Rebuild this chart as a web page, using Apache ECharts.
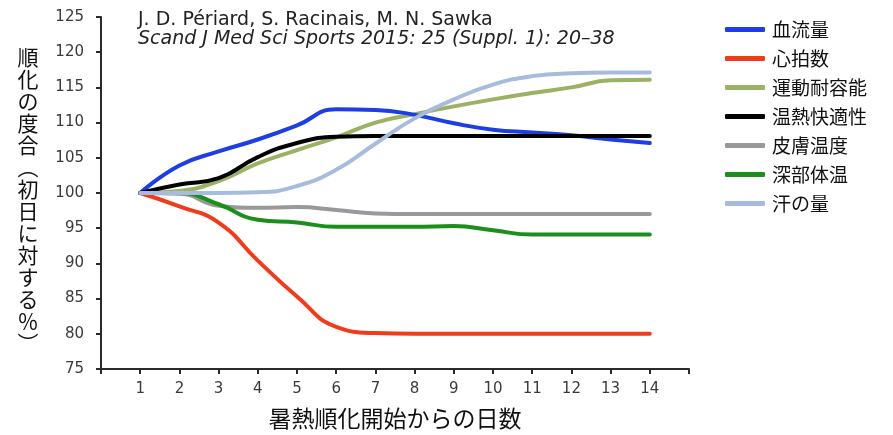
<!DOCTYPE html>
<html>
<head>
<meta charset="utf-8">
<script src="https://cdn.jsdelivr.net/npm/echarts@6/dist/echarts.min.js"></script>
<style>html,body{margin:0;padding:0;background:#fff}#c{width:893px;height:435px}</style>
</head>
<body>
<div id="c"></div>
<script>
const days = [1,2,3,4,5,6,7,8,9,10,11,12,13,14];
const bloodFlow   = [100,103.9,105.9,107.6,109.6,111.9,111.8,111.1,109.9,109.0,108.6,108.2,107.6,107.1];
const heartRate   = [100,98.1,95.8,90.4,85.3,81.0,80.1,80.0,80.0,80.0,80.0,80.0,80.0,80.0];
const exerciseCap = [100,100.3,101.7,104.2,106.1,107.9,110.0,111.2,112.3,113.3,114.2,115.0,116.0,116.1];
const thermalComf = [100,101.2,102.1,105.1,107.1,108.0,108.1,108.1,108.1,108.1,108.1,108.1,108.1,108.1];
const skinTemp    = [100,99.9,98.2,97.9,98.0,97.6,97.1,97.0,97.0,97.0,97.0,97.0,97.0,97.0];
const coreTemp    = [100,100.0,98.4,96.2,95.8,95.2,95.2,95.2,95.3,94.7,94.1,94.1,94.1,94.1];
const sweatRate   = [100,100,100,100.1,101.0,103.3,107.0,110.6,113.3,115.4,116.6,117.0,117.1,117.1];

const names = ['血流量','心拍数','運動耐容能','温熱快適性','皮膚温度','深部体温','汗の量'];
const yTicks = [75,80,85,90,95,100,105,110,115,120,125];
const yName = '順化の度合︵初日に対する％︶';
const xName = '暑熱順化開始からの日数';
const credit1 = 'J. D. Périard, S. Racinais, M. N. Sawka';
const credit2 = 'Scand J Med Sci Sports 2015: 25 (Suppl. 1): 20–38';

const colors = {
  '血流量':'#1c3ee4','心拍数':'#f03c1c','運動耐容能':'#9bb163','温熱快適性':'#000000',
  '皮膚温度':'#999999','深部体温':'#1b8e1b','汗の量':'#a7bbdc'
};
const dataMap = {
  '血流量':bloodFlow,'心拍数':heartRate,'運動耐容能':exerciseCap,'温熱快適性':thermalComf,
  '皮膚温度':skinTemp,'深部体温':coreTemp,'汗の量':sweatRate
};
const drawOrder = ['皮膚温度','深部体温','心拍数','運動耐容能','血流量','温熱快適性','汗の量'];

const chart = echarts.init(document.getElementById('c'), null, {renderer:'canvas'});
const font = 'DejaVu Sans, Verdana, sans-serif';
const cjk = '"Noto Sans CJK JP", sans-serif';

// vertical y-axis title, one glyph per line (vertical presentation-form brackets)
const yChars = Array.from(yName);
const y0 = 57, yStep = 22;
const yNameGraphics = yChars.map((ch,i)=>({
  type:'text',x:28,y:y0+i*yStep,
  style:{text:ch,font:'21px '+cjk,fill:'#111',align:'center',verticalAlign:'middle'}
}));

chart.setOption({
  animation:false,
  backgroundColor:'#fff',
  grid:{left:101,right:204,top:17,bottom:66,containLabel:false,outerBoundsMode:'none'},
  xAxis:{
    type:'value',min:0,max:15,interval:1,
    name:xName,nameLocation:'middle',nameGap:38,
    nameTextStyle:{fontFamily:cjk,fontSize:23,color:'#111',verticalAlign:'top'},
    axisLine:{show:true,lineStyle:{color:'#2a2a2a',width:2}},
    axisTick:{show:true,length:5,inside:false,lineStyle:{color:'#2a2a2a',width:2}},
    axisLabel:{margin:13,fontFamily:font,fontSize:15,color:'#3a3a3a',
      formatter:v=> (days.indexOf(v)>=0 ? String(v) : '')},
    splitLine:{show:false}
  },
  yAxis:{
    type:'value',min:yTicks[0],max:yTicks[yTicks.length-1],interval:5,
    axisLine:{show:true,lineStyle:{color:'#2a2a2a',width:2}},
    axisTick:{show:true,length:5,lineStyle:{color:'#2a2a2a',width:2}},
    axisLabel:{margin:17,fontFamily:font,fontSize:15,color:'#3a3a3a'},
    splitLine:{show:false}
  },
  legend:{
    orient:'vertical',left:720,top:15,
    data:names,
    itemWidth:40,itemHeight:5,itemGap:10,
    icon:'roundRect',
    textStyle:{fontFamily:cjk,fontSize:19,lineHeight:19,color:'#111',padding:[0,0,0,2]}
  },
  graphic:[
    {type:'text',left:138,top:11,style:{text:credit1,font:'19px '+font,fill:'#222'}},
    {type:'text',left:138,top:30,style:{text:credit2,font:'italic 19px '+font,fill:'#222'}}
  ].concat(yNameGraphics),
  series: drawOrder.map(n=>({
    name:n,type:'line',smooth:0.5,showSymbol:false,symbol:'none',
    data:days.map((d,i)=>[d,dataMap[n][i]]),
    lineStyle:{color:colors[n],width:4,cap:'round',join:'round'},
    itemStyle:{color:colors[n]}
  }))
});
</script>
</body>
</html>
